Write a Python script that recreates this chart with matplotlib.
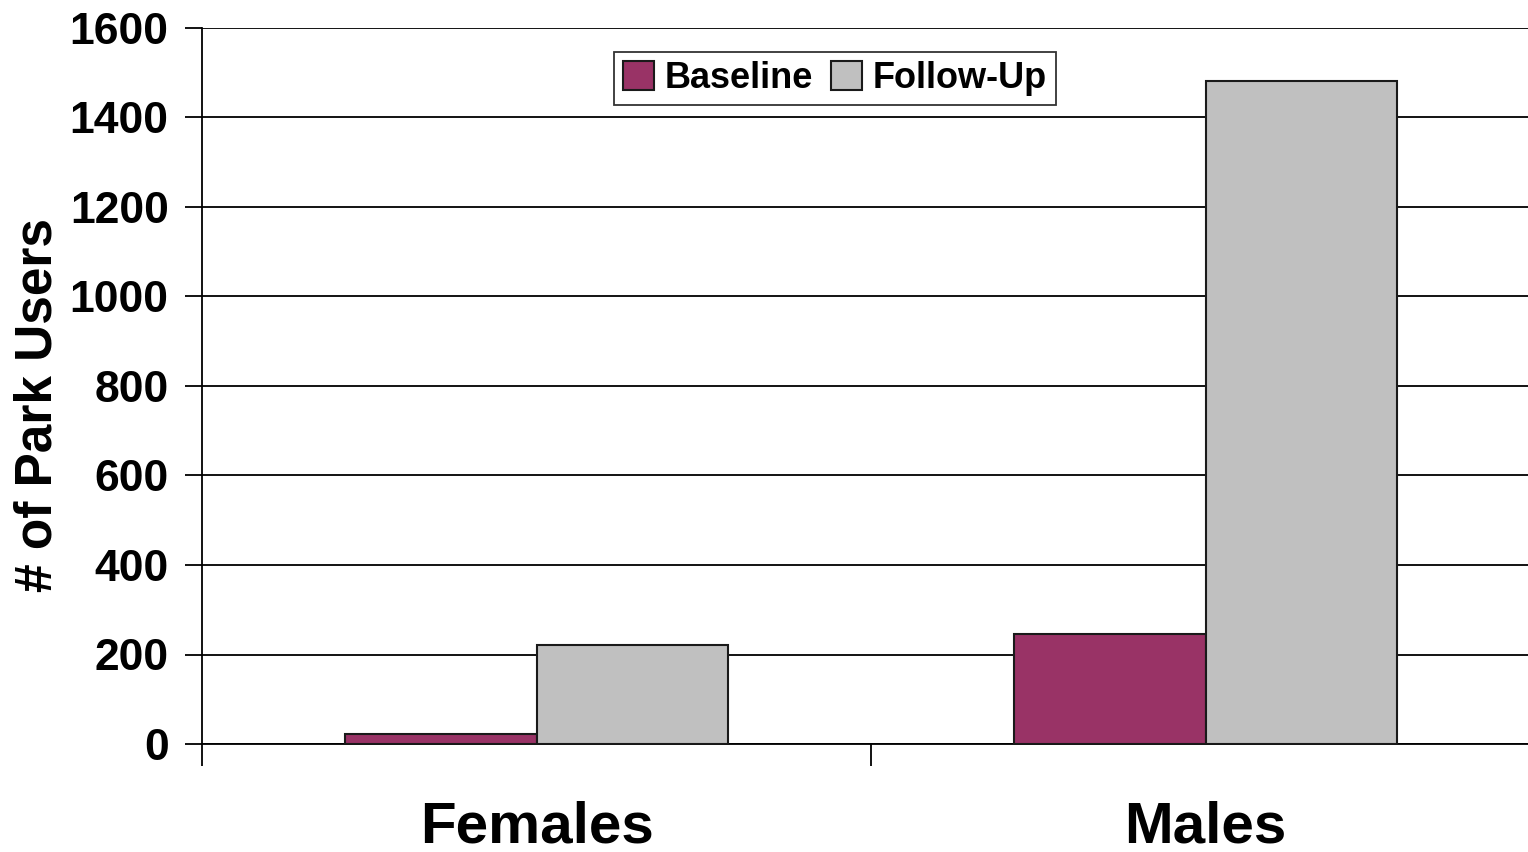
import matplotlib.pyplot as plt
import numpy as np

plt.rcParams['font.family'] = ['Liberation Sans', 'DejaVu Sans']
plt.rcParams['font.weight'] = 'bold'

groups = ['Females', 'Males']
baseline = [22, 246]
follow_up = [222, 1482]
y_ticks = [0, 200, 400, 600, 800, 1000, 1200, 1400, 1600]

fig = plt.figure(figsize=(15.28, 8.52), dpi=100)
# plot area runs slightly past the right edge of the figure
ax = fig.add_axes([202 / 1528, 1 - 744 / 852, 1338 / 1528, (744 - 28) / 852])

x = np.arange(len(groups))
w = 1 / 3.5
ax.bar(x - w / 2, baseline, w, color='#993366', edgecolor='#1a1a1a', linewidth=1.5,
       label='Baseline', zorder=3)
ax.bar(x + w / 2, follow_up, w, color='#c0c0c0', edgecolor='#1a1a1a', linewidth=1.5,
       label='Follow-Up', zorder=3)

ax.set_xlim(-0.5, len(groups) - 0.5)
ax.set_ylim(0, 1600)
ax.set_yticks(y_ticks)
ax.set_yticklabels([str(t) for t in y_ticks], fontsize=32, fontweight='bold')
ax.yaxis.grid(True, color='black', linewidth=1.3, zorder=0)
ax.tick_params(axis='y', length=12, width=1.3, pad=12, color='black')

# category labels in the middle, tick marks between categories
ax.set_xticks(x)
ax.set_xticklabels(groups, fontsize=42, fontweight='bold')
ax.tick_params(axis='x', which='major', length=0, pad=41)
ax.set_xticks(np.arange(-0.5, len(groups)), minor=True)
ax.tick_params(axis='x', which='minor', length=16, width=1.3, color='black')

for side in ['top', 'right']:
    ax.spines[side].set_visible(False)
ax.spines['left'].set_linewidth(1.3)
ax.spines['bottom'].set_linewidth(1.3)

ax.set_ylabel('# of Park Users', fontsize=37, fontweight='bold')
ax.yaxis.set_label_coords(-0.104, 0.473)

leg = ax.legend(loc='upper center', bbox_to_anchor=(0.4731, 0.9665), ncol=2,
                fontsize=26, frameon=True, fancybox=False, edgecolor='black',
                handlelength=0.85, handleheight=0.85, handletextpad=0.3,
                columnspacing=0.5, borderpad=0.25, borderaxespad=0)
leg.get_frame().set_linewidth(1.3)
for t in leg.get_texts():
    t.set_fontweight('bold')

fig.savefig('out.png', dpi=100)
